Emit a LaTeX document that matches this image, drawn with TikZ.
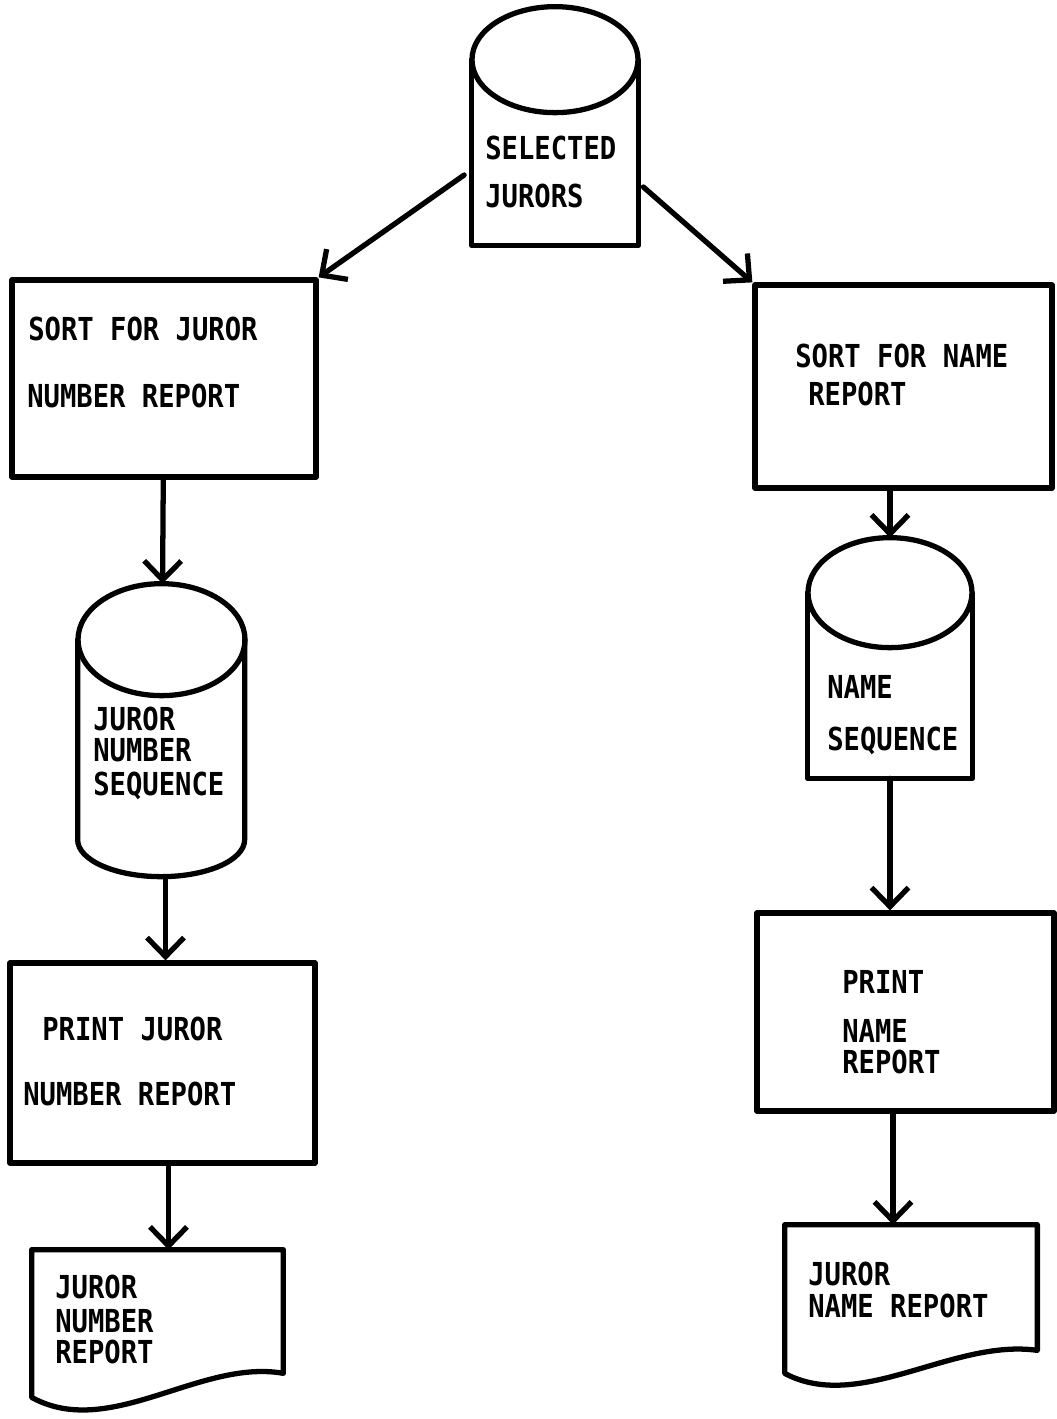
\documentclass[tikz,border=0pt]{standalone}
\usepackage{fontspec}
\newfontfamily\lettering{DejaVu Sans Mono}[FakeStretch=0.86]
\usetikzlibrary{arrows.meta,positioning}

\begin{document}
\begin{tikzpicture}[
  x=0.2mm,y=0.2mm,
  ln/.style={line width=3pt,line join=round,line cap=round},
  proc/.style={rectangle,draw,ln,inner sep=0pt},
  hold/.style={rectangle,inner sep=0pt},
  lbl/.style={anchor=base west,inner sep=0pt,font=\lettering\bfseries\fontsize{18}{20}\selectfont},
  arc/.style={ln,-{Straight Barb[length=3.8mm,width=7.4mm]}}
]
  \useasboundingbox (0,0) rectangle (1056,-1419);

  % storage files
  \node[hold,minimum width=3.32cm,minimum height=4.76cm] (sel) at (555,-126) {};
  \node[hold,minimum width=3.34cm,minimum height=5.86cm] (jns) at (161.5,-730.5) {};
  \node[hold,minimum width=3.28cm,minimum height=4.8cm] (ns) at (890,-658) {};
  \draw[ln] (sel.north west) ++(0,-53) -- (sel.south west) -- (sel.south east) -- ++(0,185);
  \draw[ln] (sel.north) ++(0,-53) ellipse [x radius=83, y radius=53];
  \draw[ln] (jns.north west) ++(0,-56) -- ++(0,-200) arc[start angle=180,end angle=360,x radius=83.5,y radius=37] -- ++(0,200);
  \draw[ln] (jns.north) ++(0,-56) ellipse [x radius=83.5, y radius=56];
  \draw[ln] (ns.north west) ++(0,-55) -- (ns.south west) -- (ns.south east) -- ++(0,185);
  \draw[ln] (ns.north) ++(0,-55) ellipse [x radius=82, y radius=55];

  % processes
  \node[proc,minimum width=6.08cm,minimum height=3.94cm] (sj) at (164,-378.5) {};
  \node[proc,minimum width=5.94cm,minimum height=4.06cm] (sn) at (903.5,-386.5) {};
  \node[proc,minimum width=6.1cm,minimum height=4cm] (pj) at (162.5,-1063) {};
  \node[proc,minimum width=5.94cm,minimum height=3.96cm] (pn) at (905.5,-1012) {};

  % reports
  \node[hold,minimum width=5.02cm,minimum height=2.94cm] (d1) at (157.5,-1323.5) {};
  \node[hold,minimum width=5.04cm,minimum height=2.96cm] (d2) at (911,-1299) {};
  \draw[ln] (d1.north east) -- (d1.north west) -- (d1.south west)
    .. controls +(78,-43) and +(-83,15) .. ([yshift=0.48cm]d1.south east) -- cycle;
  \draw[ln] (d2.north east) -- (d2.north west) -- (d2.south west)
    .. controls +(75,-40) and +(-85,12) .. ([yshift=0.46cm]d2.south east) -- cycle;

  % texts
  \node[lbl] (sel1) at (485,-159) {SELECTED};
  \node[lbl] (sel2) at (485,-207) {JURORS};
  \node[lbl] (sj1) at (28,-340) {SORT FOR JUROR};
  \node[lbl] (sj2) at (27,-407) {NUMBER REPORT};
  \node[lbl] (sn1) at (795,-367) {SORT FOR NAME};
  \node[lbl] (sn2) at (808,-405) {REPORT};
  \node[lbl] (jns1) at (93,-730) {JUROR};
  \node[lbl] (jns2) at (93,-761) {NUMBER};
  \node[lbl] (jns3) at (93,-795) {SEQUENCE};
  \node[lbl] (ns1) at (827,-698) {NAME};
  \node[lbl] (ns2) at (827,-750) {SEQUENCE};
  \node[lbl] (pj1) at (42,-1040) {PRINT JUROR};
  \node[lbl] (pj2) at (23,-1105) {NUMBER REPORT};
  \node[lbl] (pn1) at (842,-993) {PRINT};
  \node[lbl] (pn2) at (842,-1042) {NAME};
  \node[lbl] (pn3) at (842,-1073) {REPORT};
  \node[lbl] (d11) at (55,-1298) {JUROR};
  \node[lbl] (d12) at (55,-1332) {NUMBER};
  \node[lbl] (d13) at (55,-1363) {REPORT};
  \node[lbl] (d21) at (808,-1285) {JUROR};
  \node[lbl] (d22) at (808,-1317) {NAME REPORT};

  % flow
  \draw[arc] ([xshift=-1.5mm,yshift=-0.98cm]sel.west) -- (sj.north east);
  \draw[arc] ([xshift=1mm,yshift=-1.22cm]sel.east) -- (sn.north west);
  \draw[arc] (sj) -- (jns);
  \draw[arc] (ns.north |- sn.south) -- (ns.north);
  \draw[arc] ([xshift=0.8mm]jns.south) -- ([xshift=0.8mm]jns.south |- pj.north);
  \draw[arc] (ns.south) -- (ns.south |- pn.north);
  \draw[arc] ([xshift=1.2mm]pj.south) -- ([xshift=1.2mm]pj.south |- d1.north);
  \draw[arc] ([xshift=-2.5mm]pn.south) -- ([xshift=-2.5mm]pn.south |- d2.north);
\end{tikzpicture}
\end{document}
